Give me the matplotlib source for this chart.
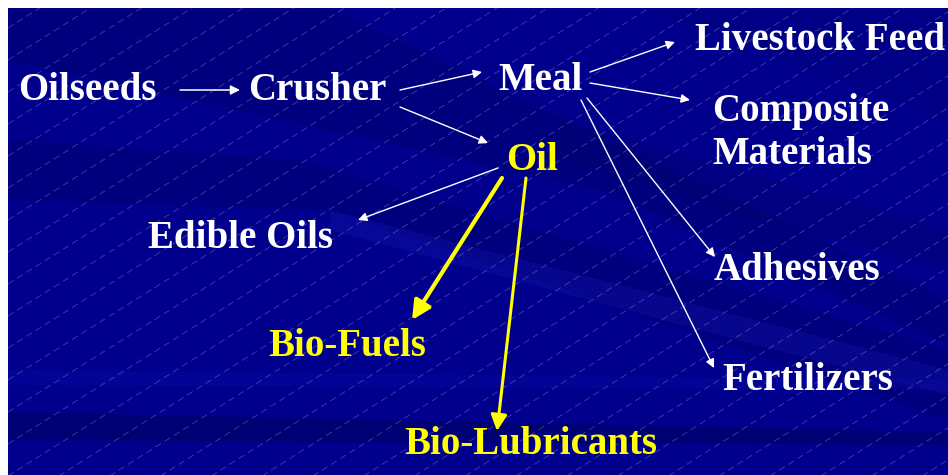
import matplotlib
matplotlib.use("Agg")
import matplotlib.pyplot as plt
from matplotlib.patches import Rectangle, Polygon
import numpy as np

# ---- diagram content ----
labels = ["Oilseeds", "Crusher", "Meal", "Oil", "Livestock Feed", "Composite\nMaterials",
          "Edible Oils", "Adhesives", "Fertilizers", "Bio-Fuels", "Bio-Lubricants"]
label_x = [18, 248, 498, 506, 695, 712, 148, 714, 722, 268, 404]
label_y = [91, 91, 81, 160, 41, 133, 238, 271, 381, 347, 444]
label_color = ["white", "white", "white", "yellow", "white", "white",
               "white", "white", "white", "yellow", "yellow"]

# arrows: start / end points, colour, line width, head scale
arrow_x0 = [180, 400, 400, 590, 590, 587, 581, 498, 502, 526]
arrow_y0 = [90, 90, 107, 72, 83, 98, 100, 168, 178, 178]
arrow_x1 = [240, 482, 488, 675, 690, 715, 714, 358, 412, 497]
arrow_y1 = [90, 72, 143, 42, 100, 257, 368, 220, 320, 431]
arrow_col = ["white"] * 8 + ["yellow", "yellow"]
arrow_lw = [1.1, 1.0, 1.0, 1.0, 1.0, 1.0, 1.0, 1.0, 3.0, 2.2]
arrow_ms = [14, 13, 13, 13, 13, 13, 13, 13, 28, 24]

W, H = 948, 475
fig = plt.figure(figsize=(9.48, 4.75), dpi=100)
ax = fig.add_axes([0, 0, 1, 1])
ax.set_xlim(0, W)
ax.set_ylim(H, 0)
ax.axis("off")
fig.patch.set_facecolor("white")

# background
x0b, y0b = 8, 8
ax.add_patch(Rectangle((x0b, y0b), W - x0b, H - y0b, facecolor="#00008c", edgecolor="none", zorder=0))

# subtle diagonal bands
bands = [
    ([(8, 8), (330, 8), (948, 300), (948, 345), (600, 190), (8, 60)], "#000070", 0.45),
    ([(8, 140), (300, 160), (948, 350), (948, 420), (330, 210), (8, 200)], "#000066", 0.35),
    ([(330, 210), (948, 370), (948, 395), (700, 330), (330, 230)], "#1a1ab4", 0.3),
    ([(8, 370), (948, 380), (948, 390), (8, 385)], "#0a0aa8", 0.35),
    ([(8, 412), (948, 432), (948, 445), (8, 440)], "#000060", 0.5),
    ([(560, 120), (948, 230), (948, 270), (740, 215), (560, 160)], "#00006a", 0.35),
    ([(640, 8), (948, 8), (948, 120)], "#00007a", 0.3),
]
for pts, col, a in bands:
    ax.add_patch(Polygon(pts, closed=True, facecolor=col, edgecolor="none", alpha=a, zorder=1))

# faint diagonal dashed texture lines rising to the right
slope = -0.63
xs = np.array([x0b, W])
for c in np.arange(-900, 1500, 32):
    ax.plot(xs, c + slope * (xs - x0b), color="white",
            lw=0.6, alpha=0.26, ls=(0, (8, 5)), zorder=2)
ax.add_patch(Rectangle((0, 0), W, y0b, facecolor="white", edgecolor="none", zorder=3))
ax.add_patch(Rectangle((0, 0), x0b, H, facecolor="white", edgecolor="none", zorder=3))

# arrows
for xa, ya, xb, yb, col, lw, ms in zip(arrow_x0, arrow_y0, arrow_x1, arrow_y1,
                                       arrow_col, arrow_lw, arrow_ms):
    ax.annotate("", xy=(xb, yb), xytext=(xa, ya),
                arrowprops=dict(arrowstyle="-|>", color=col, lw=lw,
                                mutation_scale=ms, shrinkA=0, shrinkB=0),
                zorder=5)

# labels
for txt, x, y, col in zip(labels, label_x, label_y, label_color):
    ax.text(x, y, txt, color=col, fontsize=28, fontweight="bold",
            family="Liberation Serif", ha="left", va="center",
            linespacing=1.25, zorder=6)

fig.savefig("out.png", dpi=100, facecolor="white")
